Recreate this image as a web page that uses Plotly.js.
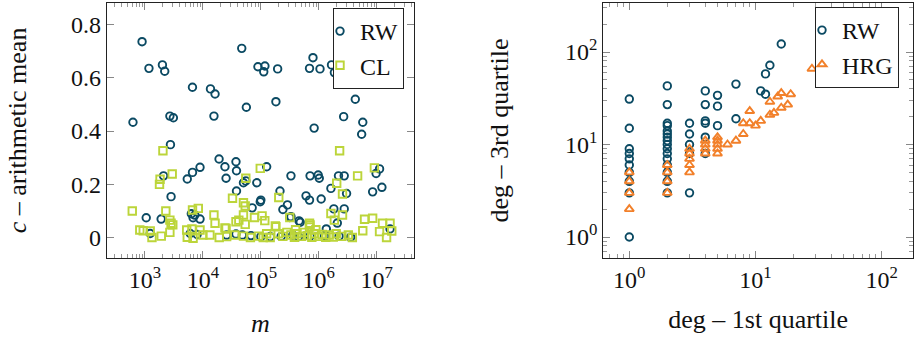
<!DOCTYPE html>
<html><head><meta charset="utf-8">
<script src="https://cdn.plot.ly/plotly-3.0.1.min.js"></script>
<style>html,body{margin:0;padding:0;background:#fff}#chart{width:916px;height:338px}</style>
</head><body><div id="chart"></div>
<script>
// ---------- Left panel: c (arithmetic mean) vs m ----------
const rwM = [890,620,1170,2000,2190,2690,3090,6600,13500,16200,15500,46800,56200,89100,117500,112200,195000,182000,692000,794000,1050000,832000,1660000,1860000,2690000,4270000,5750000,5500000,
2750,2090,2820,1050,1900,5370,6610,8910,6760,7240,6310,8910,19000,24000,37200,38000,25100,50100,55000,85100,38000,126000,100000,97700,70800,214000,331000,288000,240000,316000,457000,479000,603000,692000,708000,977000,1020000,1100000,1620000,1820000,2190000,2750000,3020000,2750000,2090000,1350000,8510000,12300000,9770000,11200000,17000000,331000,
6030,7940,25700,37200,67600,145000,224000,447000,708000,1260000,2240000,3550000,1230,47900,100000,355000];
const rwC = [0.735,0.433,0.635,0.648,0.624,0.456,0.450,0.564,0.558,0.539,0.456,0.710,0.489,0.641,0.644,0.622,0.633,0.510,0.635,0.675,0.633,0.411,0.648,0.619,0.454,0.519,0.433,0.388,
0.349,0.232,0.154,0.075,0.070,0.220,0.245,0.264,0.075,0.085,0.090,0.070,0.295,0.266,0.285,0.251,0.223,0.206,0.213,0.206,0.175,0.266,0.141,0.135,0.112,0.175,0.232,0.123,0.106,0.076,0.063,0.058,0.157,0.141,0.232,0.235,0.223,0.145,0.185,0.108,0.232,0.232,0.166,0.108,0.055,0.033,0.172,0.189,0.241,0.258,0.033,0.079,
0.016,0.012,0.010,0.014,0.008,0.004,0.005,0.004,0.006,0.006,0.006,0.002,0.016,0.010,0.004,0.010];
const clM = [2040,1820,1780,2950,603,2290,2690,2820,813,933,1230,1320,1910,2690,6610,8320,5250,6460,6760,8910,13200,15500,16200,19100,24000,25700,32400,50100,53700,55000,37200,41700,50100,53700,35500,50100,77600,97700,105000,117000,91200,110000,145000,204000,182000,316000,2040000,2570000,2290000,4680000,9120000,1620000,2570000,1860000,5750000,6170000,8510000,12600000,17000000,11200000,14800000,18200000,3800000,3240000,178000,692000,692000,200000,240000,282000,331000,380000,417000,501000,562000,631000,759000,832000,1000000,1150000,1320000,1510000,1780000,2000000,2510000,398000,891000,708000,3020,25100,66100,126000,5370,10000];
const clC = [0.326,0.219,0.200,0.239,0.100,0.100,0.066,0.054,0.029,0.026,0.025,0.001,0.006,0.020,0.104,0.110,0.029,0.033,-0.002,0.029,0.010,0.085,0.054,0.001,0.037,0.004,0.148,0.131,0.119,0.223,0.060,0.066,0.085,0.050,0.010,0.006,0.076,0.260,0.082,0.064,0.006,0.001,0.001,0.151,0.041,0.076,0.204,0.164,0.326,0.232,0.262,0.091,0.085,0.066,0.026,0.069,0.073,0.054,0.054,0.023,0.001,0.025,0.001,0.010,0.044,0.054,0.040,0.015,0.005,0.020,0.010,0.002,0.015,0.005,0.020,0.008,0.002,0.015,0.005,0.012,0.002,0.010,0.003,0.015,0.005,0.030,0.030,0.048,0.048,0.035,0.001,0.015,0.002,0.010];

// ---------- Right panel: deg 3rd quartile vs deg 1st quartile ----------
const rwQ1 = [1,1,1,1,1,1,1,1,1,1, 2,2,2,2,2,2,2,2,2,2,2,2,2,2,2,2, 3,3,3,3,3, 4,4,4,4,4,4, 5,5,5, 7,7, 11, 12,12, 13, 16];
const rwQ3 = [1,3,4,5,6,7,8,9,15,31, 3,4,5,6,7,8,9,10,11,12,13,14,16,17,27,43, 3,8,10,13,17, 8,12,17,18,27,38, 16,26,34, 19,45, 38, 35,58, 72, 122];
const hrgQ1 = [1,1,1,1, 2,2,2,2, 3,3,3,3,3, 4,4,4,4, 5,5,5,5,5, 6, 7, 8,8, 9,9, 10, 11, 13,13, 14, 15, 16,16, 18, 19, 28];
const hrgQ3 = [2,3,4,5, 3,4,5,6, 5,6,7,8,9, 8,9,10,11, 8,9,10,11,12, 10, 11, 13,17, 17,23, 16, 18, 21,29, 22, 33, 25,36, 27, 35, 66];

// ---------- tick labels ----------
const mTickVals = [1e3,1e4,1e5,1e6,1e7];
const mTickText = ['10<sup>3</sup>','10<sup>4</sup>','10<sup>5</sup>','10<sup>6</sup>','10<sup>7</sup>'];
const cTickVals = [0,0.2,0.4,0.6,0.8];
const cTickText = ['0','0.2','0.4','0.6','0.8'];
const degTickVals = [1,10,100];
const degTickText = ['10<sup>0</sup>','10<sup>1</sup>','10<sup>2</sup>'];

function minorLog(lo, hi){ // minor tick positions 2..9 x 10^k between lo and hi
  const out=[];
  for(let k=-2;k<=9;k++){ for(let d=2; d<=9; d++){ const v=d*Math.pow(10,k); if(v>=lo && v<=hi) out.push(v);} }
  return out;
}

const C_RW='#0b4a63', C_CL='#bcd53a', C_HRG='#f2802a';
const FONT='"Liberation Serif", "Times New Roman", serif';

const traces = [
  {x:rwM, y:rwC, type:'scatter', mode:'markers', name:'RW', xaxis:'x', yaxis:'y', legend:'legend',
   marker:{symbol:'circle-open', size:7.5, color:C_RW, line:{width:1.9, color:C_RW}}},
  {x:clM, y:clC, type:'scatter', mode:'markers', name:'CL', xaxis:'x', yaxis:'y', legend:'legend',
   marker:{symbol:'square-open', size:7.5, color:C_CL, line:{width:1.9, color:C_CL}}},
  {x:rwQ1, y:rwQ3, type:'scatter', mode:'markers', name:'RW', xaxis:'x2', yaxis:'y2', legend:'legend2',
   marker:{symbol:'circle-open', size:7.5, color:C_RW, line:{width:1.9, color:C_RW}}},
  {x:hrgQ1, y:hrgQ3, type:'scatter', mode:'markers', name:'HRG', xaxis:'x2', yaxis:'y2', legend:'legend2',
   marker:{symbol:'triangle-up-open', size:8, color:C_HRG, line:{width:1.9, color:C_HRG}}}
];

const tickFont = {family:FONT, size:24, color:'#111'};
const titleFont = {family:FONT, size:26, color:'#111'};
const common = {showline:true, linecolor:'#222', linewidth:1, mirror:'allticks', ticks:'inside', ticklen:7,
  tickcolor:'#888', tickwidth:1, showgrid:false, zeroline:false, tickfont:tickFont, automargin:false, tickmode:'array'};
const yDom = [1-258/338, 1-3/338];

const layout = {
  width:916, height:338, margin:{l:0,r:0,t:0,b:0,pad:0},
  paper_bgcolor:'#fff', plot_bgcolor:'#fff', font:{family:FONT, color:'#111'},
  xaxis: Object.assign({}, common, {domain:[106.7/916, 414/916], anchor:'y', type:'log', range:[2.339,7.644],
    tickvals:mTickVals, ticktext:mTickText,
    minor:{tickmode:'array', tickvals:minorLog(200,5e7), ticks:'inside', ticklen:4, tickcolor:'#999', tickwidth:1},
    title:{text:'<i>m</i>', font:titleFont, standoff:24}}),
  yaxis: Object.assign({}, common, {domain:yDom, anchor:'x', range:[-0.076,0.88],
    tickvals:cTickVals, ticktext:cTickText,
    title:{text:'<i>c</i> – arithmetic mean', font:titleFont, standoff:36}}),
  xaxis2: Object.assign({}, common, {domain:[603.3/916, 913/916], anchor:'y2', type:'log', range:[-0.206,2.248],
    tickvals:degTickVals, ticktext:degTickText,
    minor:{tickmode:'array', tickvals:minorLog(0.5,200), ticks:'inside', ticklen:4, tickcolor:'#999', tickwidth:1},
    title:{text:'deg – 1st quartile', font:titleFont, standoff:18}}),
  yaxis2: Object.assign({}, common, {domain:yDom, anchor:'x2', type:'log', range:[-0.227,2.53],
    tickvals:degTickVals, ticktext:degTickText,
    minor:{tickmode:'array', tickvals:minorLog(0.5,400), ticks:'inside', ticklen:4, tickcolor:'#999', tickwidth:1},
    title:{text:'deg – 3rd quartile', font:titleFont, standoff:49}}),
  legend:{x:333/916, y:1-8/338, xanchor:'left', yanchor:'top', bgcolor:'#fff', bordercolor:'#222', borderwidth:1,
    font:{family:FONT, size:24, color:'#111'}, indentation:-14, itemwidth:30, tracegroupgap:0},
  legend2:{x:815/916, y:1-7/338, xanchor:'left', yanchor:'top', bgcolor:'#fff', bordercolor:'#222', borderwidth:1,
    font:{family:FONT, size:24, color:'#111'}, indentation:-14, itemwidth:30, tracegroupgap:0},
  showlegend:true
};

Plotly.newPlot('chart', traces, layout, {staticPlot:true, displayModeBar:false});
</script>
</body></html>
